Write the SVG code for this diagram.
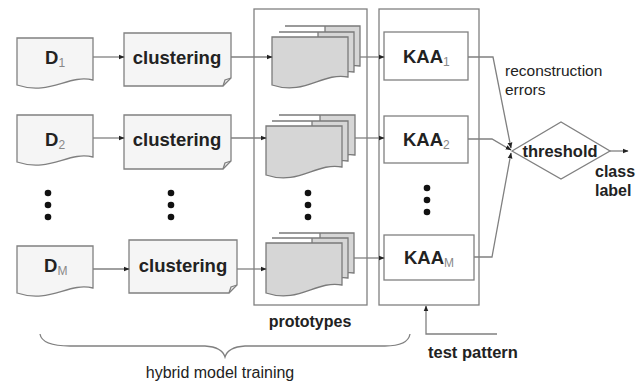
<svg xmlns="http://www.w3.org/2000/svg" width="643" height="388" viewBox="0 0 643 388">
<defs>
<marker id="ah" viewBox="0 0 10 10" refX="9" refY="5" markerWidth="6" markerHeight="6" orient="auto" markerUnits="userSpaceOnUse">
<path d="M0,1 L10,5 L0,9 Z" fill="#222"/>
</marker>
</defs>
<style>
.ln{fill:none;stroke:#808080;stroke-width:1.3}
.doc{fill:#f5f5f5;stroke:#808080;stroke-width:1.3}
.pg{fill:#d6d6d6;stroke:#7a7a7a;stroke-width:1.3}
.box{fill:#fff;stroke:#808080;stroke-width:1.3}
.b{font-family:"Liberation Sans",Arial,sans-serif;font-weight:bold;fill:#222}
.r{font-family:"Liberation Sans",Arial,sans-serif;fill:#222}
.sub{font-weight:normal;fill:#888;font-size:12px}
.dot{fill:#111}
</style>
<rect width="643" height="388" fill="#fff"/>

<g id="panel-prototypes">
<rect class="box" x="254" y="9" width="113" height="296"/>
<text class="b" x="310" y="327" font-size="16" text-anchor="middle">prototypes</text>
</g>
<g id="panel-kaa">
<rect class="box" x="379" y="9" width="100" height="296"/>
</g>

<g id="D1">
<path class="doc" d="M17,38 H93 V80 C68,74 50,96 17,85 Z"/>
<text class="b" x="45" y="64" font-size="18.5">D<tspan class="sub" dy="3">1</tspan></text>
</g>
<g id="D2">
<path class="doc" d="M17,115 H93 V157 C68,151 50,173 17,162 Z"/>
<text class="b" x="45" y="146" font-size="18.5">D<tspan class="sub" dy="3">2</tspan></text>
</g>
<g id="DM">
<path class="doc" d="M17,246 H93 V288 C68,282 50,304 17,293 Z"/>
<text class="b" x="44" y="272" font-size="18.5">D<tspan class="sub" dy="3">M</tspan></text>
</g>

<g id="clustering1">
<path class="doc" d="M124,33 H231 V78 L223,86 H124 Z"/>
<path class="ln" d="M223,86 L225,80 L231,78" stroke-width="1"/>
<text class="b" x="177" y="64" font-size="18.5" text-anchor="middle">clustering</text>
</g>
<g id="clustering2">
<path class="doc" d="M124,115 H231 V161 L223,169 H124 Z"/>
<path class="ln" d="M223,169 L225,163 L231,161" stroke-width="1"/>
<text class="b" x="177" y="146" font-size="18.5" text-anchor="middle">clustering</text>
</g>
<g id="clusteringM">
<path class="doc" d="M129,240 H237 V285 L229,293 H129 Z"/>
<path class="ln" d="M229,293 L231,287 L237,285" stroke-width="1"/>
<text class="b" x="183" y="272" font-size="18.5" text-anchor="middle">clustering</text>
</g>

<g id="stack1">
<path class="pg" d="M285,26 H360 V66 C345,64 335,70 325,72 V26 Z"/>
<path class="pg" d="M279,32 H354 V72 C340,70 330,76 318,78 V32 Z"/>
<path class="pg" d="M272,37 H348 V77 C322,72 305,96 272,85 Z"/>
</g>
<g id="stack2">
<path class="pg" d="M279,115 H355 V155 C340,153 330,159 320,161 V115 Z"/>
<path class="pg" d="M272,121 H348 V161 C334,159 324,165 312,167 V121 Z"/>
<path class="pg" d="M266,126 H342 V167 C316,162 299,186 266,175 Z"/>
</g>
<g id="stackM">
<path class="pg" d="M279,233 H354 V273 C340,271 330,277 320,279 V233 Z"/>
<path class="pg" d="M272,238 H348 V278 C334,276 324,282 312,284 V238 Z"/>
<path class="pg" d="M266,243 H342 V285 C316,280 299,304 266,293 Z"/>
</g>

<g id="KAA1">
<rect class="box" x="384" y="32" width="84" height="48"/>
<text class="b" x="403" y="63" font-size="18.5">KAA<tspan class="sub" dy="3">1</tspan></text>
</g>
<g id="KAA2">
<rect class="box" x="384" y="116" width="84" height="47"/>
<text class="b" x="403" y="146" font-size="18.5">KAA<tspan class="sub" dy="3">2</tspan></text>
</g>
<g id="KAAM">
<rect class="box" x="384" y="235" width="90" height="45"/>
<text class="b" x="404" y="264" font-size="18.5">KAA<tspan class="sub" dy="3">M</tspan></text>
</g>

<g id="threshold">
<path class="box" d="M512,151 L561,122 L610,151 L561,179 Z"/>
<text class="b" x="560" y="157" font-size="16.5" text-anchor="middle">threshold</text>
</g>

<g id="dots">
<circle class="dot" cx="48" cy="193" r="3.3"/><circle class="dot" cx="48" cy="205" r="3.3"/><circle class="dot" cx="48" cy="217" r="3.3"/>
<circle class="dot" cx="171" cy="193" r="3.3"/><circle class="dot" cx="171" cy="205" r="3.3"/><circle class="dot" cx="171" cy="217" r="3.3"/>
<circle class="dot" cx="308" cy="193" r="3.3"/><circle class="dot" cx="308" cy="205" r="3.3"/><circle class="dot" cx="308" cy="217" r="3.3"/>
<circle class="dot" cx="427" cy="188" r="3.3"/><circle class="dot" cx="427" cy="200" r="3.3"/><circle class="dot" cx="427" cy="212" r="3.3"/>
</g>

<g id="connectors">
<path class="ln" d="M93,57 H124" marker-end="url(#ah)"/>
<path class="ln" d="M93,138 H124" marker-end="url(#ah)"/>
<path class="ln" d="M93,269 H129" marker-end="url(#ah)"/>
<path class="ln" d="M231,57 H272" marker-end="url(#ah)"/>
<path class="ln" d="M231,138 H266" marker-end="url(#ah)"/>
<path class="ln" d="M237,269 H266" marker-end="url(#ah)"/>
<path class="ln" d="M360,57 H384" marker-end="url(#ah)"/>
<path class="ln" d="M355,138 H384" marker-end="url(#ah)"/>
<path class="ln" d="M354,258 H384" marker-end="url(#ah)"/>
<path class="ln" d="M468,57 H493 L511,148" marker-end="url(#ah)"/>
<path class="ln" d="M468,139 H492 L511,150" marker-end="url(#ah)"/>
<path class="ln" d="M474,257 H492 L511,153" marker-end="url(#ah)"/>
<path class="ln" d="M610,151 H628" marker-end="url(#ah)"/>
<path class="ln" d="M497,334 H426 V306" marker-end="url(#ah)"/>
<path class="ln" d="M40,334 Q42,346 70,346 H205 Q222,347 225,357 Q228,347 245,346 H385 Q408,346 410,334"/>
</g>

<g id="labels">
<text class="r" x="505" y="76" font-size="15.5">reconstruction</text>
<text class="r" x="505" y="95" font-size="15.5">errors</text>
<text class="b" x="595" y="177" font-size="16">class</text>
<text class="b" x="595" y="196" font-size="16">label</text>
<text class="b" x="428" y="358" font-size="16.5">test pattern</text>
<text class="r" x="220" y="378" font-size="16" text-anchor="middle">hybrid model training</text>
</g>
</svg>
